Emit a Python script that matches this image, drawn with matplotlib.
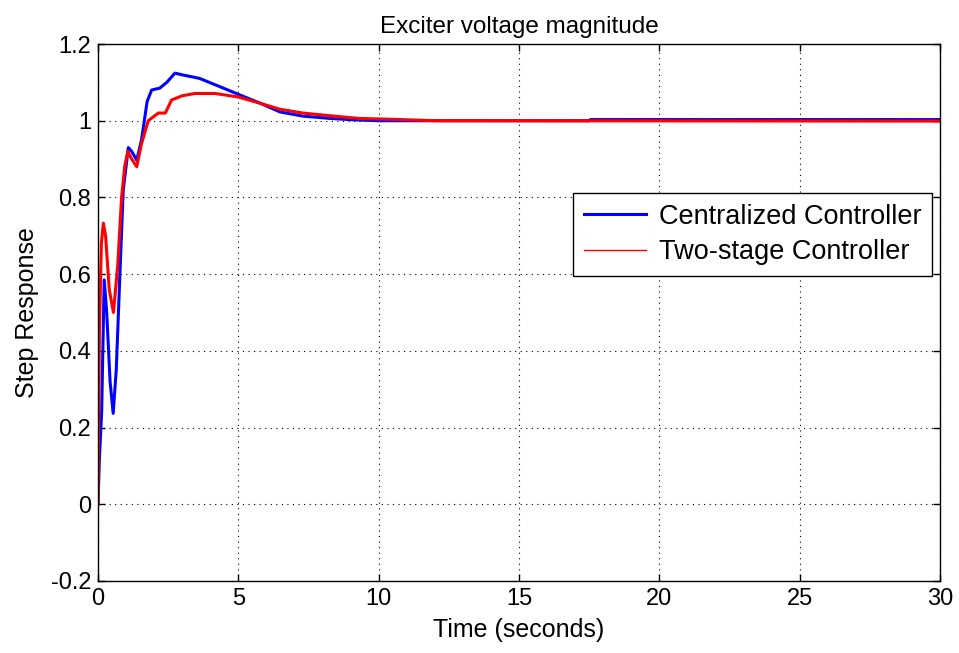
"""
Step response of exciter voltage magnitude: centralized vs two-stage controller
"""
import matplotlib.pyplot as plt
from matplotlib.lines import Line2D

# values
t_central = [0, 0.05, 0.13, 0.22, 0.31, 0.43, 0.54, 0.65, 0.78, 0.9, 1.08, 1.2,
             1.38, 1.55, 1.75, 1.91, 2.2, 2.45, 2.74, 3.1, 3.45, 3.63, 4.3, 5.06,
             5.8, 6.48, 7.3, 8.26, 9.2, 10, 12, 17.5, 17.55, 30]
v_central = [0, 0.12, 0.24, 0.585, 0.5, 0.32, 0.237, 0.35, 0.6, 0.82, 0.93, 0.92,
             0.897, 0.95, 1.05, 1.08, 1.085, 1.1, 1.124, 1.118, 1.113, 1.11, 1.09, 1.067,
             1.045, 1.023, 1.012, 1.006, 1.002, 1.0, 1.0, 1.0, 1.003, 1.003]

t_twostage = [0, 0.05, 0.12, 0.19, 0.27, 0.4, 0.55, 0.7, 0.84, 0.95, 1.06, 1.2,
              1.38, 1.55, 1.79, 2.15, 2.4, 2.62, 3.0, 3.45, 4.17, 4.99, 5.8,
              6.48, 7.3, 8.26, 9.3, 10.8, 12, 30]
v_twostage = [0, 0.45, 0.68, 0.733, 0.7, 0.56, 0.5, 0.62, 0.8, 0.88, 0.92, 0.9,
              0.88, 0.94, 1.0, 1.02, 1.02, 1.054, 1.065, 1.071, 1.071, 1.062, 1.045,
              1.03, 1.02, 1.013, 1.006, 1.003, 1.0, 0.999]

labels = ['Centralized Controller', 'Two-stage Controller']
x_ticks = [0, 5, 10, 15, 20, 25, 30]
y_ticks = [-0.2, 0, 0.2, 0.4, 0.6, 0.8, 1.0, 1.2]

plt.rcParams['font.family'] = ['Liberation Sans', 'DejaVu Sans']

fig = plt.figure(figsize=(9.59, 6.53), dpi=100)
ax = fig.add_axes([0.1022, 0.1103, 0.8780, 0.8223])

ax.plot(t_central, v_central, color='#0000ff', linewidth=2.2)
ax.plot(t_twostage, v_twostage, color='#ff0000', linewidth=2.2)

ax.set_xlim(0, 30)
ax.set_ylim(-0.2, 1.2)
ax.set_xticks(x_ticks)
ax.set_yticks(y_ticks)
ax.set_yticklabels([f'{v:g}' for v in y_ticks])
ax.tick_params(direction='in', labelsize=17, length=5, width=1, pad=5,
               top=True, right=True)
ax.grid(True, color='black', linestyle=(0, (1, 4)), linewidth=0.8)
for sp in ax.spines.values():
    sp.set_linewidth(1)

ax.set_title('Exciter voltage magnitude', fontsize=17.5, pad=8)
ax.set_xlabel('Time (seconds)', fontsize=18, labelpad=6)
ax.set_ylabel('Step Response', fontsize=18, labelpad=8)

handles = [Line2D([], [], color='#0000ff', linewidth=2.2),
           Line2D([], [], color='#ff0000', linewidth=1)]
leg = ax.legend(handles, labels, loc='upper right', bbox_to_anchor=(0.9905, 0.7225),
                fontsize=19.5, fancybox=False, framealpha=1, edgecolor='black',
                borderpad=0.4, handlelength=2.3, handletextpad=0.45,
                labelspacing=0.35, borderaxespad=0)
leg.get_frame().set_linewidth(1)

plt.savefig('out.png', dpi=100)
plt.close()
